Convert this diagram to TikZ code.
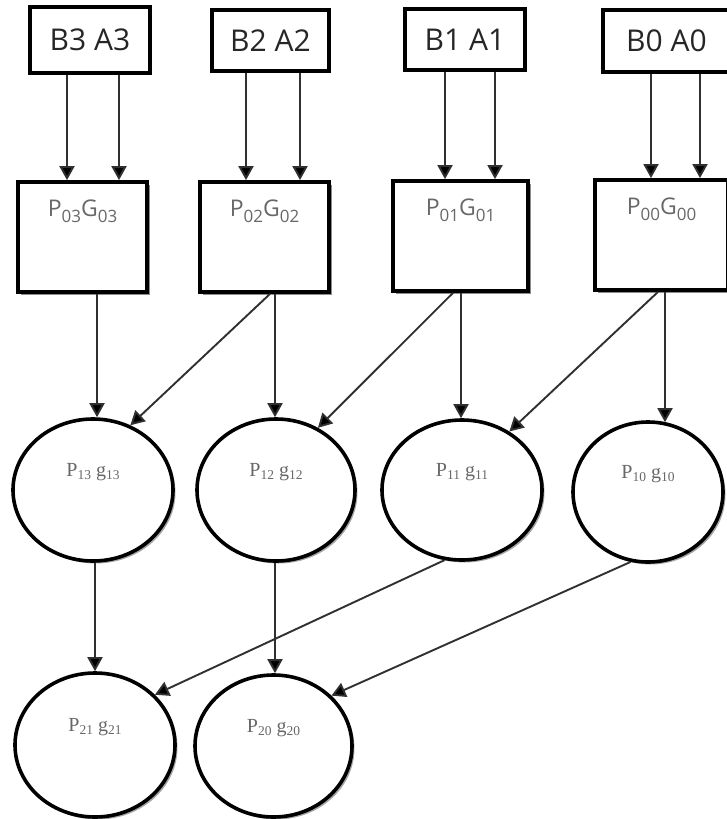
\documentclass[tikz,border=0pt]{standalone}
\usepackage{fontspec}
\newfontfamily\boxfont{Open Sans}
\newfontfamily\ovalfont{Liberation Serif}
\usetikzlibrary{arrows.meta,shapes.geometric,shadows}
\definecolor{inkgray}{HTML}{686868}
\definecolor{wire}{HTML}{303030}
% lowered subscripts for the box and oval labels
\newcommand\bsub[1]{\raisebox{-6pt}{\fontsize{17}{17}\selectfont #1}}
\newcommand\osub[1]{\raisebox{-3pt}{\fontsize{13.5}{13.5}\selectfont #1}}

\begin{document}
\begin{tikzpicture}[x=1pt,y=-1pt,
  inbox/.style={draw=black, line width=3.4pt, fill=white, rectangle, inner sep=0pt,
    font=\boxfont\fontsize{30}{30}\selectfont, text=black!85},
  pgbox/.style={draw=black, line width=3.8pt, fill=white, rectangle, inner sep=0pt,
    minimum height=110pt,
    drop shadow={shadow xshift=3pt, shadow yshift=-3pt, opacity=0.45, fill=black}},
  plab/.style={anchor=north, yshift=-20pt, inner sep=0pt,
    font=\boxfont\fontsize{23}{23}\selectfont, text=inkgray},
  oval/.style={draw=black, line width=3.6pt, fill=white, ellipse, inner sep=0pt,
    drop shadow={shadow xshift=2.5pt, shadow yshift=-2.5pt, opacity=0.35, fill=black}},
  olab/.style={yshift=18pt, inner sep=0pt,
    font=\ovalfont\fontsize{20}{20}\selectfont, text=inkgray},
  arr/.style={draw=wire, line width=1.9pt, -{Triangle[length=14pt,width=15pt,fill=black]}}
]
\fill[white] (0,0) rectangle (726,819);
\useasboundingbox (0,0) rectangle (726,819);

% operand pairs
\node[inbox, minimum width=120pt, minimum height=66pt] (b3) at (90,40)    {B3 A3};
\node[inbox, minimum width=117pt, minimum height=61pt] (b2) at (270.5,40.5) {B2 A2};
\node[inbox, minimum width=120pt, minimum height=61pt] (b1) at (465,39.5) {B1 A1};
\node[inbox, minimum width=127pt, minimum height=62pt] (b0) at (666.5,41) {B0 A0};

% level-0 propagate/generate boxes
\node[pgbox, minimum width=129pt, label={[plab]north:P\bsub{03}G\bsub{03}}] (p03) at (82.5,237) {};
\node[pgbox, minimum width=129pt, label={[plab]north:P\bsub{02}G\bsub{02}}] (p02) at (264.5,237) {};
\node[pgbox, minimum width=135pt, label={[plab]north:P\bsub{01}G\bsub{01}}] (p01) at (460.5,236) {};
\node[pgbox, minimum width=133pt, label={[plab]north:P\bsub{00}G\bsub{00}}] (p00) at (661.5,235) {};

% level-1 cells
\node[oval, minimum width=160pt, minimum height=142pt, label={[olab]center:P\osub{13} g\osub{13}}] (p13) at (93,490) {};
\node[oval, minimum width=158pt, minimum height=142pt, label={[olab]center:P\osub{12} g\osub{12}}] (p12) at (276,490) {};
\node[oval, minimum width=160pt, minimum height=140pt, label={[olab]center:P\osub{11} g\osub{11}}] (p11) at (462,490) {};
\node[oval, minimum width=150pt, minimum height=140pt, label={[olab]center:P\osub{10} g\osub{10}}] (p10) at (648,492) {};

% level-2 cells
\node[oval, minimum width=160pt, minimum height=144pt, label={[olab]center:P\osub{21} g\osub{21}}] (p21) at (95,745) {};
\node[oval, minimum width=157pt, minimum height=142pt, label={[olab]center:P\osub{20} g\osub{20}}] (p20) at (273.5,746) {};

% x positions of the vertical wires
\coordinate (x3a) at (67,0);  \coordinate (x3b) at (119,0);
\coordinate (x2a) at (246,0); \coordinate (x2b) at (300,0);
\coordinate (x1a) at (445,0); \coordinate (x1b) at (495,0);
\coordinate (x0a) at (651,0); \coordinate (x0b) at (700,0);
\coordinate (v13) at (97,0);  \coordinate (v12) at (275,0);
\coordinate (v11) at (461,0); \coordinate (v10) at (665,0);
\coordinate (d02) at (270,0); \coordinate (d01) at (453,0); \coordinate (d00) at (658,0);
\coordinate (v21) at (95,0);  \coordinate (v20) at (275,0);

% operands into level 0
\foreach \b/\p/\xa/\xb in {b3/p03/x3a/x3b, b2/p02/x2a/x2b, b1/p01/x1a/x1b, b0/p00/x0a/x0b}{
  \draw[arr] (\b.south -| \xa) -- (\p.north -| \xa);
  \draw[arr] (\b.south -| \xb) -- (\p.north -| \xb);
}

% level 0 into level 1
\draw[arr] (p03.south -| v13) -- (p13.north -| v13);
\draw[arr] (p02.south -| v12) -- (p12.north -| v12);
\draw[arr] (p01.south -| v11) -- (p11.north -| v11);
\draw[arr] (p00.south -| v10) -- ([yshift=-2pt]p10.north -| v10);
\draw[arr] (p02.south -| d02) -- (p13.60);
\draw[arr] (p01.south -| d01) -- (p12.56);
\draw[arr] (p00.south -| d00) -- (p11.51);

% level 1 into level 2
\draw[arr] (p13.south -| v21) -- (p21.north -| v21);
\draw[arr] (p12.south -| v20) -- (p20.north -| v20);
\draw[arr] (p11.-104) -- (p21.40);
\draw[arr] (p10.-104) -- (p20.41);
\end{tikzpicture}
\end{document}
